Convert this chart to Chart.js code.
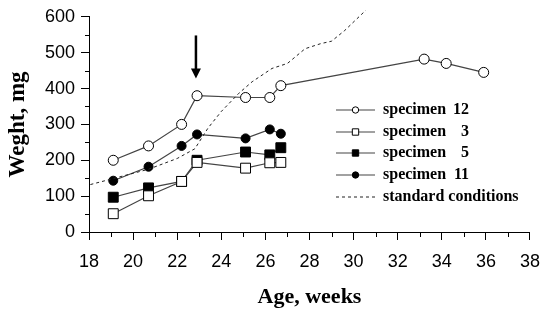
<!DOCTYPE html>
<html>
<head>
<meta charset="utf-8">
<script src="https://cdn.jsdelivr.net/npm/chart.js@4.4.0/dist/chart.umd.min.js"></script>
<style>
  html, body { margin: 0; padding: 0; background: #fff; }
  #wrap { width: 551px; height: 315px; }
</style>
</head>
<body>
<div id="wrap"><canvas id="weightChart"></canvas></div>
<script>
// ages (weeks) of the weighings
const ageShort = [19.1, 20.7, 22.2, 22.9, 25.1, 26.2, 26.7];
const ageLong = [19.1, 20.7, 22.2, 22.9, 25.1, 26.2, 26.7, 33.2, 34.2, 35.9];

// weights, mg
const specimen12 = [200, 240, 300, 380, 375, 375, 408, 482, 470, 445];
const specimen3 = [51, 101, 141, 194, 178, 193, 194];
const specimen5 = [97, 123, 141, 200, 223, 215, 235];
const specimen11 = [143, 182, 240, 272, 261, 286, 274];

// growth under standard conditions (dashed)
const stdAge = [17.8, 20.7, 22.0, 22.8, 23.4, 24.0, 24.8, 25.4, 26.3, 27.0, 27.8, 28.5, 29.0, 29.6, 30.55];
const stdWeight = [128, 175, 205, 232, 290, 336, 387, 419, 456, 470, 511, 525, 532, 562, 618];

// arrow marking the treatment
const arrowAge = 22.85;
const arrowFrom = 548;
const arrowTo = 428;

const xTicks = [18, 20, 22, 24, 26, 28, 30, 32, 34, 36, 38];
const yTicks = [0, 100, 200, 300, 400, 500, 600];

const legendLabels = [
  ["specimen", "12"],
  ["specimen", "3"],
  ["specimen", "5"],
  ["specimen", "11"],
  ["standard conditions", ""]
];

function toPoints(xs, ys) {
  return xs.map((x, i) => ({ x: x, y: ys[i] }));
}

const lineColor = "#444";

function series(label, xs, ys, style, radius, fill) {
  return {
    label: label,
    data: toPoints(xs, ys),
    borderColor: lineColor,
    borderWidth: 1.2,
    pointStyle: style,
    pointRadius: radius,
    pointHoverRadius: radius,
    pointBackgroundColor: fill,
    pointBorderColor: "#000",
    pointBorderWidth: 1,
    tension: 0
  };
}

const datasets = [
  {
    label: "standard conditions",
    data: toPoints(stdAge, stdWeight),
    borderColor: "#222",
    borderWidth: 1,
    borderDash: [3, 3],
    pointRadius: 0,
    tension: 0,
    clip: { left: 0, top: 8, right: 0, bottom: 0 }
  },
  series("specimen 3", ageShort, specimen3, "rect", 7, "#fff"),
  series("specimen 5", ageShort, specimen5, "rect", 7, "#000"),
  series("specimen 11", ageShort, specimen11, "circle", 4.5, "#000"),
  series("specimen 12", ageLong, specimen12, "circle", 5, "#fff")
];

// legend order and small marker sizes as in the figure
const legendSets = [4, 1, 2, 3, 0];
const legendRadius = { circle: 3.2, rect: 4.5 };

const extras = {
  id: "extras",
  afterDatasetsDraw(chart) {
    const ctx = chart.ctx;
    const xs = chart.scales.x;
    const ys = chart.scales.y;
    ctx.save();
    ctx.strokeStyle = "#000";
    ctx.lineWidth = 1;

    // minor ticks
    for (let v = 50; v < 600; v += 100) {
      const py = Math.round(ys.getPixelForValue(v)) + 0.5;
      ctx.beginPath();
      ctx.moveTo(xs.left - 4, py);
      ctx.lineTo(xs.left, py);
      ctx.stroke();
    }
    for (let v = 19; v < 38; v += 2) {
      const px = Math.round(xs.getPixelForValue(v)) + 0.5;
      ctx.beginPath();
      ctx.moveTo(px, ys.bottom);
      ctx.lineTo(px, ys.bottom + 5);
      ctx.stroke();
    }

    // arrow
    const ax = xs.getPixelForValue(arrowAge);
    const aTop = ys.getPixelForValue(arrowFrom);
    const aTip = ys.getPixelForValue(arrowTo);
    ctx.fillStyle = "#000";
    ctx.lineWidth = 2.5;
    ctx.beginPath();
    ctx.moveTo(ax, aTop);
    ctx.lineTo(ax, aTip - 8);
    ctx.stroke();
    ctx.beginPath();
    ctx.moveTo(ax - 5, aTip - 10);
    ctx.lineTo(ax + 5, aTip - 10);
    ctx.lineTo(ax, aTip);
    ctx.closePath();
    ctx.fill();

    // legend
    const lx0 = 336, lx1 = 375, tx = 383, numRight = 469;
    const rows = [110, 132, 153, 175, 197];
    ctx.font = "bold 16px 'Liberation Serif', 'DejaVu Serif', serif";
    ctx.textBaseline = "middle";
    legendSets.forEach((di, i) => {
      const ds = chart.data.datasets[di];
      const y = rows[i];
      ctx.save();
      ctx.strokeStyle = ds.borderColor;
      ctx.lineWidth = ds.borderWidth;
      if (ds.borderDash) ctx.setLineDash(ds.borderDash);
      ctx.beginPath();
      ctx.moveTo(lx0, y);
      ctx.lineTo(lx1, y);
      ctx.stroke();
      ctx.restore();
      if (ds.pointRadius > 0) {
        ctx.save();
        ctx.fillStyle = ds.pointBackgroundColor;
        ctx.strokeStyle = "#000";
        ctx.lineWidth = 1;
        Chart.helpers.drawPoint(ctx, {
          pointStyle: ds.pointStyle,
          radius: legendRadius[ds.pointStyle],
          borderWidth: 1,
          rotation: 0
        }, (lx0 + lx1) / 2, y);
        ctx.restore();
      }
      ctx.fillStyle = "#000";
      ctx.textAlign = "left";
      ctx.fillText(legendLabels[i][0], tx, y);
      if (legendLabels[i][1]) {
        ctx.textAlign = "right";
        ctx.fillText(legendLabels[i][1], numRight, y);
      }
    });
    ctx.restore();
  }
};

new Chart(document.getElementById("weightChart"), {
  type: "line",
  data: { datasets: datasets },
  plugins: [extras],
  options: {
    responsive: true,
    maintainAspectRatio: false,
    animation: false,
    layout: { padding: { left: 0, right: 15, top: 15, bottom: 0 } },
    plugins: {
      legend: { display: false },
      tooltip: { enabled: false }
    },
    scales: {
      x: {
        type: "linear",
        min: 18,
        max: 38,
        afterBuildTicks: (s) => { s.ticks = xTicks.map(v => ({ value: v })); },
        afterFit: (s) => { s.height = 83; },
        ticks: {
          autoSkip: false,
          maxRotation: 0,
          padding: 11,
          color: "#000",
          font: { family: "'Liberation Sans', Arial, sans-serif", size: 18 }
        },
        grid: { drawOnChartArea: false, drawTicks: true, tickLength: 8, color: "#000" },
        border: { display: true, color: "#000", width: 1 },
        title: {
          display: true,
          text: "Age, weeks",
          color: "#000",
          font: { family: "'Liberation Serif', 'DejaVu Serif', serif", size: 22, weight: "bold" }
        }
      },
      y: {
        min: 0,
        max: 600,
        afterBuildTicks: (s) => { s.ticks = yTicks.map(v => ({ value: v })); },
        afterFit: (s) => { s.width = 89; },
        ticks: {
          padding: 6,
          color: "#000",
          font: { family: "'Liberation Sans', Arial, sans-serif", size: 18 }
        },
        grid: { drawOnChartArea: false, drawTicks: true, tickLength: 8, color: "#000" },
        border: { display: true, color: "#000", width: 1 },
        title: {
          display: true,
          text: "Weght, mg",
          color: "#000",
          font: { family: "'Liberation Serif', 'DejaVu Serif', serif", size: 23, weight: "bold" }
        }
      }
    }
  }
});
</script>
</body>
</html>
